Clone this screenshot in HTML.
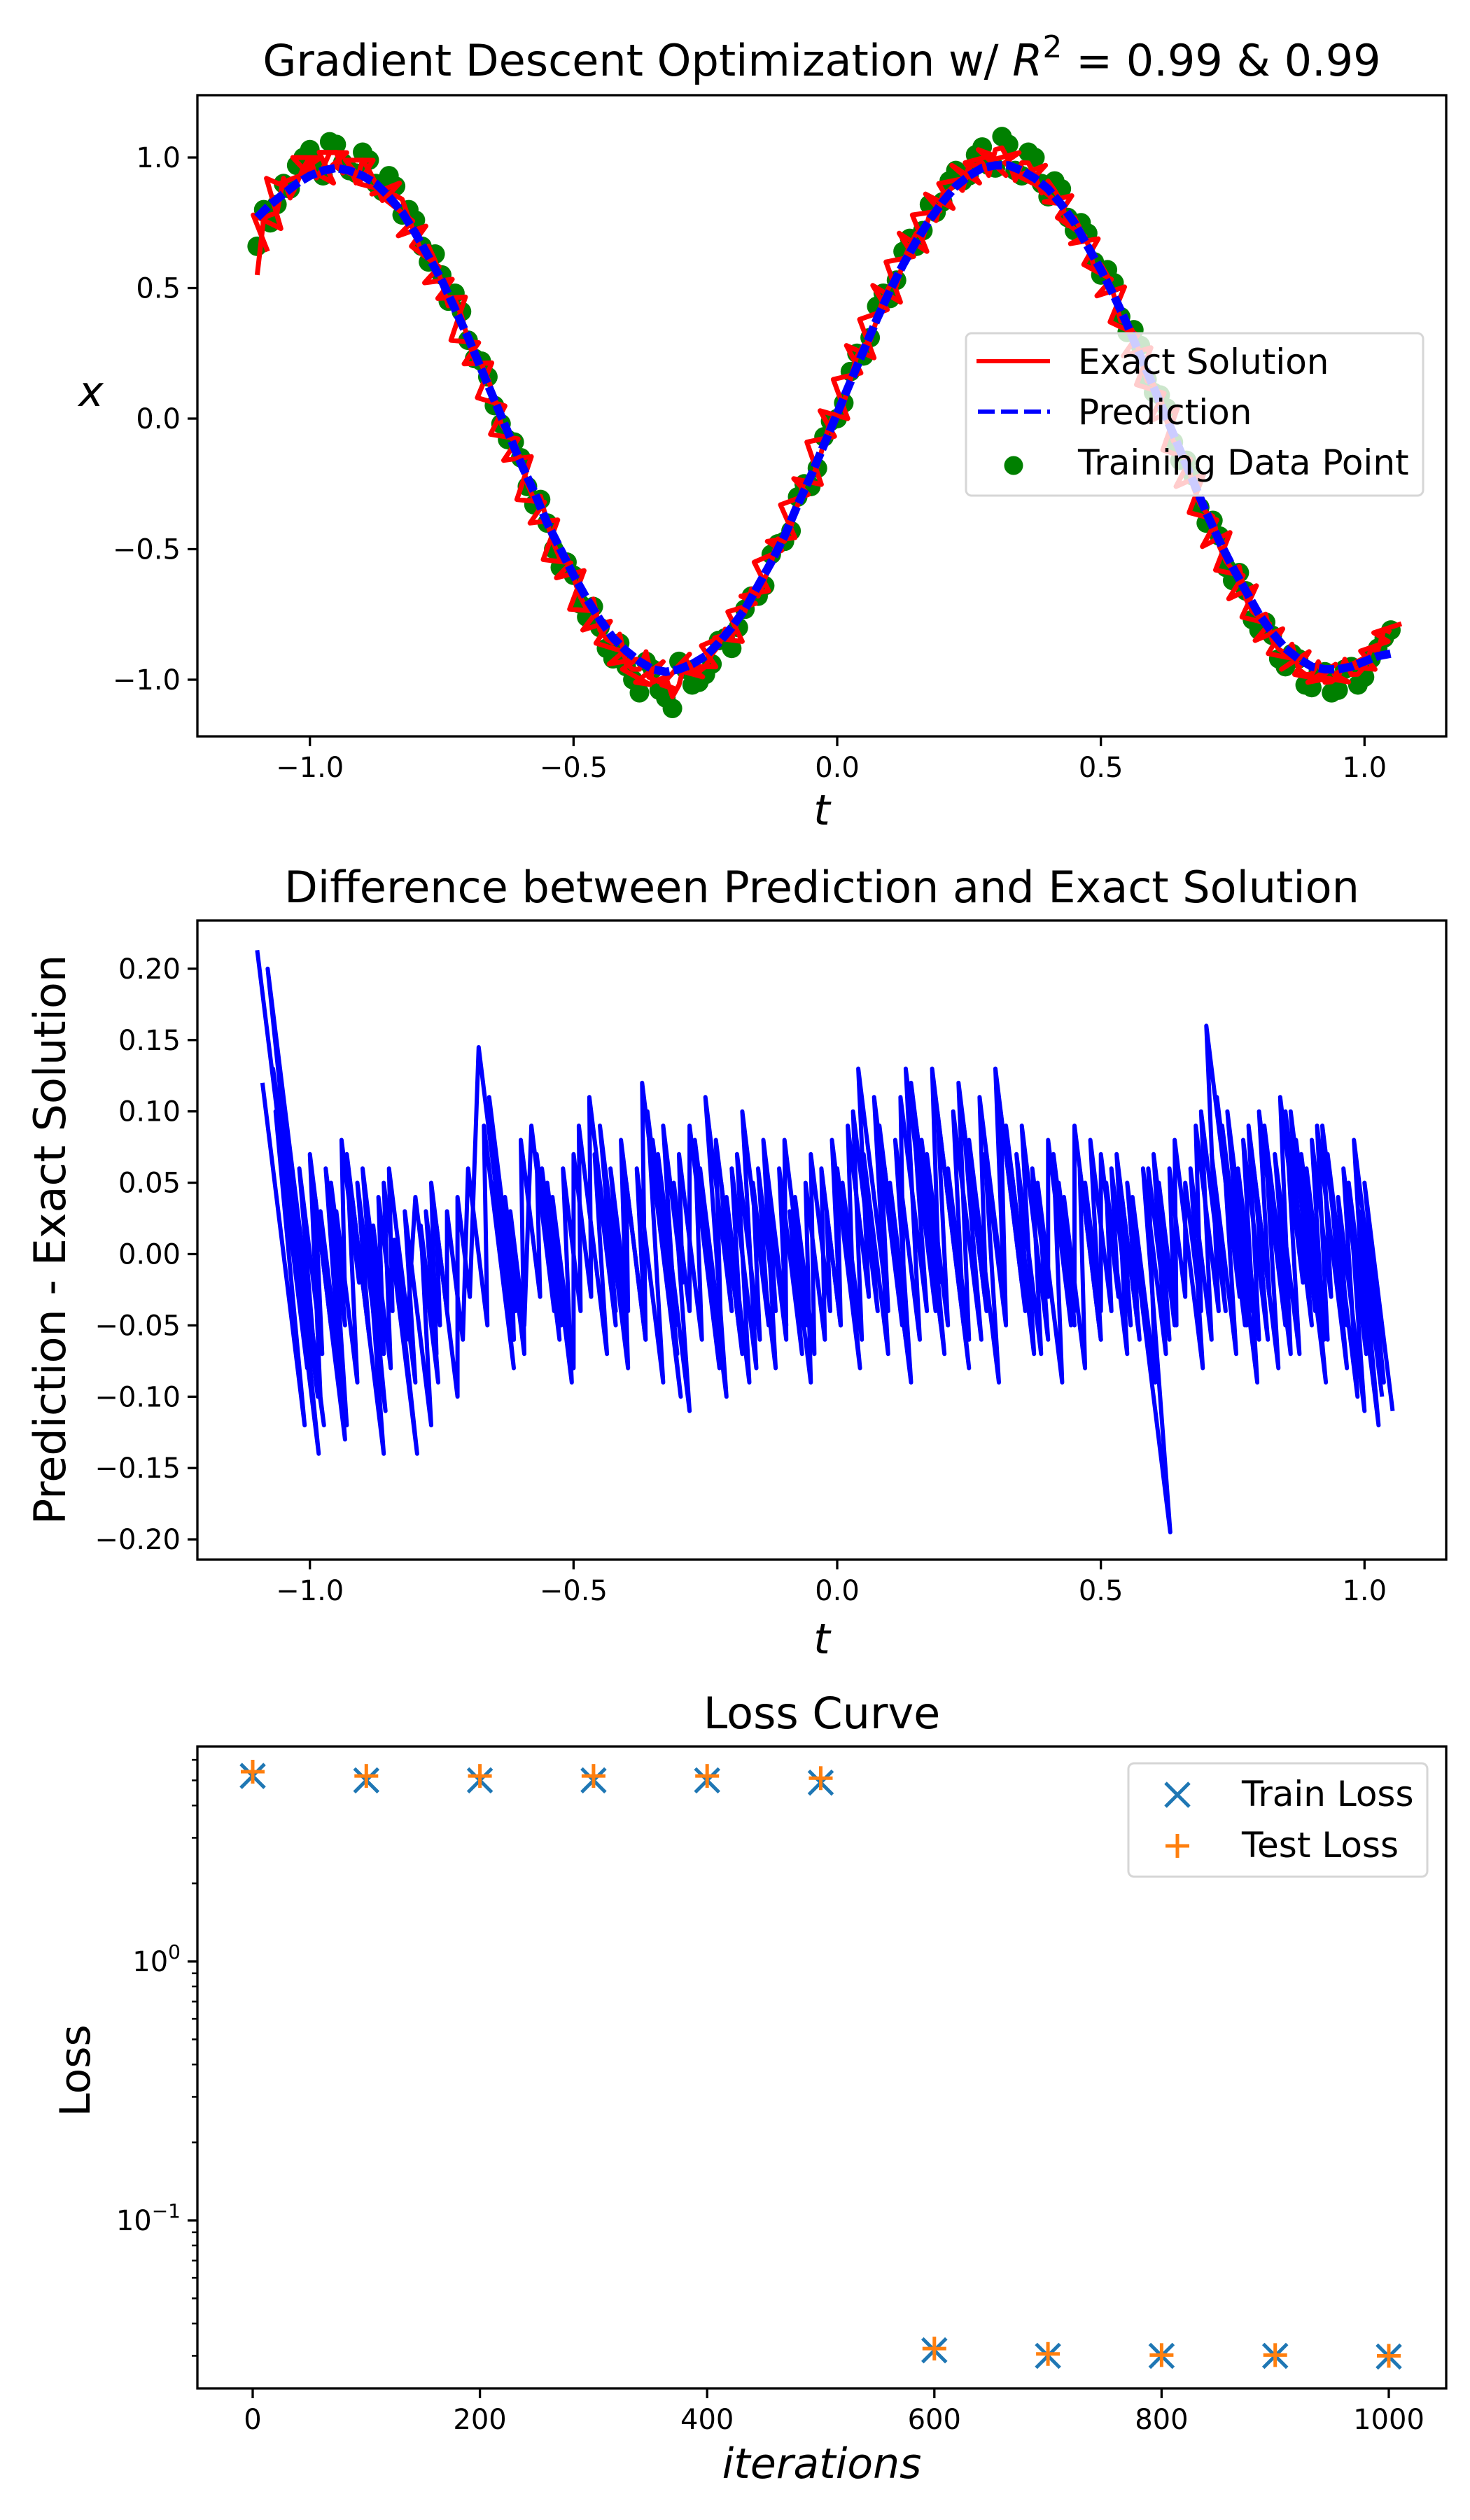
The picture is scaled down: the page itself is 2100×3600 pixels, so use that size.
<!DOCTYPE html>
<html><head><meta charset="utf-8">
<style>
html,body{margin:0;padding:0;background:#fff;}
svg{display:block;}
text{font-family:"DejaVu Sans","Liberation Sans",sans-serif;fill:#000;}
</style></head>
<body>
<svg id="fig" width="2100" height="3600" viewBox="0 0 2100 3600" xmlns="http://www.w3.org/2000/svg">
<rect width="2100" height="3600" fill="#fff"/>
<g id="p1"></g>
<g id="p2"></g>
<g id="p3"></g>
</svg>
<script>
// ---------- Chart 1 data ----------
const tGrid = [-1.1,-1.075,-1.05,-1.025,-1.0,-0.975,-0.95,-0.925,-0.9,-0.875,-0.85,-0.825,-0.8,-0.775,-0.75,-0.725,-0.7,-0.675,-0.65,-0.625,-0.6,-0.575,-0.55,-0.525,-0.5,-0.475,-0.45,-0.425,-0.4,-0.375,-0.35,-0.325,-0.3,-0.275,-0.25,-0.225,-0.2,-0.175,-0.15,-0.125,-0.1,-0.075,-0.05,-0.025,0.0,0.025,0.05,0.075,0.1,0.125,0.15,0.175,0.2,0.225,0.25,0.275,0.3,0.325,0.35,0.375,0.4,0.425,0.45,0.475,0.5,0.525,0.55,0.575,0.6,0.625,0.65,0.675,0.7,0.725,0.75,0.775,0.8,0.825,0.85,0.875,0.9,0.925,0.95,0.975,1.0,1.025,1.05];
const trainA = [0.66,0.75,0.90,0.97,1.03,0.93,1.05,0.95,1.02,0.90,0.93,0.78,0.76,0.60,0.55,0.48,0.30,0.22,0.05,-0.08,-0.15,-0.33,-0.40,-0.57,-0.60,-0.76,-0.80,-0.92,-0.95,-1.05,-0.96,-1.07,-0.93,-1.02,-0.98,-0.85,-0.88,-0.73,-0.68,-0.52,-0.47,-0.30,-0.26,-0.07,0.00,0.18,0.24,0.43,0.46,0.64,0.66,0.82,0.83,0.95,0.93,1.04,0.96,1.05,0.93,1.00,0.85,0.88,0.72,0.71,0.55,0.52,0.33,0.28,0.10,0.04,-0.16,-0.22,-0.40,-0.45,-0.62,-0.66,-0.81,-0.83,-0.95,-0.92,-1.03,-0.97,-1.04,-0.95,-0.99,-0.88,-0.81];
const tMid = [-1.0875,-1.0625,-1.0375,-1.0125,-0.9875,-0.9625,-0.9375,-0.9125,-0.8875,-0.8625,-0.8375,-0.8125,-0.7875,-0.7625,-0.7375,-0.7125,-0.6875,-0.6625,-0.6375,-0.6125,-0.5875,-0.5625,-0.5375,-0.5125,-0.4875,-0.4625,-0.4375,-0.4125,-0.3875,-0.3625,-0.3375,-0.3125,-0.2875,-0.2625,-0.2375,-0.2125,-0.1875,-0.1625,-0.1375,-0.1125,-0.0875,-0.0625,-0.0375,-0.0125,0.0125,0.0375,0.0625,0.0875,0.1125,0.1375,0.1625,0.1875,0.2125,0.2375,0.2625,0.2875,0.3125,0.3375,0.3625,0.3875,0.4125,0.4375,0.4625,0.4875,0.5125,0.5375,0.5625,0.5875,0.6125,0.6375,0.6625,0.6875,0.7125,0.7375,0.7625,0.7875,0.8125,0.8375,0.8625,0.8875,0.9125,0.9375,0.9625,0.9875,1.0125,1.0375];
const trainB = [0.80,0.82,0.88,1.00,0.96,1.06,0.98,0.94,0.99,0.87,0.89,0.80,0.66,0.63,0.45,0.41,0.23,0.16,-0.02,-0.09,-0.26,-0.31,-0.50,-0.55,-0.71,-0.72,-0.88,-0.86,-1.00,-0.93,-1.04,-1.11,-0.96,-1.01,-0.94,-0.84,-0.80,-0.68,-0.64,-0.48,-0.43,-0.25,-0.19,-0.01,0.06,0.25,0.31,0.48,0.53,0.69,0.72,0.79,0.91,0.91,1.01,0.97,1.08,0.95,1.02,0.90,0.91,0.77,0.75,0.60,0.57,0.39,0.34,0.15,0.09,-0.09,-0.16,-0.34,-0.39,-0.57,-0.59,-0.77,-0.78,-0.92,-0.90,-1.02,-0.97,-1.05,-0.96,-1.02,-0.92,-0.84];
const exactX = [0.55,0.78,0.92,0.90,1.00,0.96,1.02,0.97,0.99,0.90,0.86,0.84,0.70,0.66,0.52,0.46,0.30,0.21,0.08,-0.06,-0.16,-0.31,-0.40,-0.54,-0.61,-0.73,-0.81,-0.86,-0.94,-0.96,-1.01,-0.99,-1.02,-0.96,-0.95,-0.87,-0.84,-0.74,-0.68,-0.55,-0.47,-0.33,-0.23,-0.09,0.03,0.15,0.28,0.38,0.51,0.60,0.71,0.78,0.86,0.90,0.97,0.98,1.03,0.99,0.98,0.93,0.91,0.83,0.77,0.67,0.59,0.47,0.37,0.24,0.13,-0.01,-0.12,-0.26,-0.36,-0.49,-0.58,-0.69,-0.76,-0.85,-0.90,-0.96,-0.98,-1.01,-0.99,-0.98,-0.95,-0.89,-0.82];
const predX = [0.77,0.82,0.86,0.90,0.93,0.95,0.96,0.95,0.93,0.90,0.85,0.79,0.71,0.62,0.53,0.42,0.31,0.19,0.07,-0.05,-0.17,-0.28,-0.40,-0.50,-0.60,-0.69,-0.77,-0.84,-0.89,-0.93,-0.96,-0.97,-0.96,-0.94,-0.91,-0.86,-0.80,-0.73,-0.64,-0.55,-0.45,-0.33,-0.22,-0.10,0.02,0.14,0.26,0.38,0.49,0.59,0.68,0.76,0.83,0.89,0.93,0.96,0.97,0.97,0.95,0.92,0.88,0.82,0.75,0.66,0.57,0.47,0.36,0.24,0.12,0.00,-0.12,-0.24,-0.36,-0.47,-0.57,-0.66,-0.75,-0.82,-0.88,-0.92,-0.95,-0.96,-0.96,-0.95,-0.93,-0.91,-0.90];
const yTicks1 = [1.0,0.5,0.0,-0.5,-1.0];
const xTicks = [-1.0,-0.5,0.0,0.5,1.0];

// ---------- Chart 2 data ----------
const segT = [-1.10,-1.08,-1.07,-1.06,-1.05,-1.03,-1.00,-0.98,-0.96,-0.94,-0.92,-0.90,-0.88,-0.86,-0.84,-0.80,-0.78,-0.76,-0.72,-0.68,-0.66,-0.64,-0.62,-0.58,-0.56,-0.54,-0.50,-0.47,-0.45,-0.43,-0.40,-0.37,-0.35,-0.33,-0.30,-0.27,-0.25,-0.22,-0.20,-0.18,-0.15,-0.13,-0.10,-0.08,-0.05,-0.02,0.00,0.02,0.04,0.06,0.08,0.10,0.12,0.14,0.16,0.18,0.20,0.22,0.24,0.27,0.30,0.32,0.34,0.37,0.40,0.42,0.45,0.47,0.50,0.52,0.54,0.55,0.58,0.60,0.63,0.66,0.68,0.70,0.72,0.74,0.76,0.78,0.80,0.82,0.84,0.86,0.88,0.90,0.92,0.95,0.97,0.99];
const segHi = [0.213,0.20,0.13,0.09,0.11,0.05,0.07,0.03,0.05,0.08,0.04,0.06,0.02,0.05,0.01,0.04,0.03,0.02,0.04,0.145,0.11,0.02,0.03,0.09,0.06,0.04,0.07,0.11,0.09,0.06,0.05,0.12,0.08,0.09,0.07,0.08,0.11,0.05,0.06,0.10,0.06,0.04,0.08,0.04,0.07,0.03,0.06,0.09,0.13,0.07,0.09,0.05,0.11,0.12,0.08,0.13,0.07,0.10,0.09,0.11,0.13,0.09,0.07,0.06,0.08,0.05,0.09,0.05,0.07,0.06,0.04,0.05,0.06,0.07,0.06,0.05,0.09,0.16,0.11,0.10,0.06,0.09,0.10,0.05,0.11,0.10,0.07,0.08,0.09,0.04,0.05,0.03];
const segLo = [-0.09,-0.12,-0.08,-0.14,-0.06,-0.10,-0.05,-0.12,-0.03,-0.02,-0.14,-0.05,-0.08,-0.14,-0.06,-0.09,-0.05,-0.10,-0.03,-0.02,-0.04,-0.06,-0.05,-0.04,-0.05,-0.08,-0.03,-0.04,-0.05,-0.04,-0.06,-0.10,-0.05,-0.02,-0.06,-0.10,-0.04,-0.07,-0.08,-0.05,-0.04,-0.06,-0.05,-0.07,-0.04,-0.05,-0.03,-0.03,-0.02,-0.04,-0.06,-0.03,-0.04,-0.05,-0.02,-0.03,-0.05,-0.06,-0.04,-0.03,-0.02,-0.04,-0.07,-0.03,-0.05,-0.04,-0.06,-0.04,-0.03,-0.05,-0.06,-0.195,-0.07,-0.05,-0.03,-0.04,-0.04,-0.03,-0.05,-0.04,-0.06,-0.03,-0.05,-0.07,-0.02,-0.04,-0.06,-0.03,-0.05,-0.11,-0.12,-0.10];
const segT2 = [-1.09,-1.065,-1.045,-1.02,-0.99,-0.97,-0.95,-0.93,-0.91,-0.89,-0.87,-0.85,-0.82,-0.79,-0.77,-0.74,-0.70,-0.67,-0.65,-0.63,-0.60,-0.57,-0.55,-0.52,-0.49,-0.46,-0.44,-0.41,-0.38,-0.36,-0.34,-0.31,-0.28,-0.26,-0.23,-0.21,-0.19,-0.16,-0.14,-0.11,-0.09,-0.06,-0.03,-0.01,0.01,0.03,0.05,0.07,0.09,0.11,0.13,0.15,0.17,0.19,0.21,0.23,0.25,0.28,0.31,0.33,0.35,0.38,0.41,0.43,0.46,0.48,0.51,0.53,0.56,0.59,0.61,0.64,0.67,0.69,0.71,0.73,0.75,0.77,0.79,0.81,0.83,0.85,0.87,0.89,0.91,0.93,0.96,0.98,1.00];
const segHi2 = [0.12,0.10,0.08,0.06,0.04,0.06,0.03,0.07,0.05,0.02,0.04,0.06,0.03,0.02,0.05,0.03,0.06,0.09,0.05,0.04,0.08,0.07,0.05,0.06,0.09,0.07,0.05,0.08,0.06,0.10,0.07,0.05,0.09,0.06,0.08,0.04,0.07,0.05,0.08,0.06,0.03,0.05,0.06,0.08,0.05,0.10,0.07,0.11,0.06,0.08,0.13,0.09,0.07,0.10,0.06,0.12,0.08,0.07,0.10,0.06,0.09,0.05,0.07,0.04,0.06,0.08,0.05,0.07,0.04,0.06,0.05,0.08,0.06,0.10,0.07,0.09,0.05,0.08,0.06,0.09,0.07,0.10,0.08,0.06,0.09,0.07,0.06,0.08,0.05];
const segLo2 = [-0.12,-0.08,-0.10,-0.07,-0.13,-0.05,-0.09,-0.06,-0.11,-0.07,-0.04,-0.09,-0.12,-0.07,-0.04,-0.06,-0.05,-0.08,-0.06,-0.07,-0.03,-0.06,-0.09,-0.04,-0.07,-0.05,-0.08,-0.06,-0.09,-0.07,-0.11,-0.04,-0.08,-0.06,-0.05,-0.09,-0.06,-0.08,-0.05,-0.07,-0.09,-0.06,-0.05,-0.08,-0.06,-0.04,-0.07,-0.05,-0.09,-0.06,-0.04,-0.07,-0.05,-0.08,-0.06,-0.03,-0.09,-0.05,-0.04,-0.07,-0.06,-0.09,-0.05,-0.08,-0.06,-0.04,-0.07,-0.05,-0.09,-0.06,-0.05,-0.08,-0.06,-0.04,-0.07,-0.05,-0.09,-0.06,-0.08,-0.04,-0.07,-0.05,-0.09,-0.06,-0.08,-0.10,-0.07,-0.09,-0.11];
const yTicks2 = [0.20,0.15,0.10,0.05,0.00,-0.05,-0.10,-0.15,-0.20];

// ---------- Chart 3 data ----------
const iters = [0,100,200,300,400,500,600,700,800,900,1000];
const trainLoss = [5.2,5.0,5.0,5.0,5.0,4.9,0.0315,0.0300,0.0300,0.0300,0.0298];
const testLoss = [5.4,5.2,5.2,5.2,5.2,5.1,0.0320,0.0305,0.0302,0.0302,0.0300];
const xTicks3 = [0,200,400,600,800,1000];

const NS = 'http://www.w3.org/2000/svg';
function mk(parent, tag, attrs, txt){
  const e = document.createElementNS(NS, tag);
  for (const k in attrs) e.setAttribute(k, attrs[k]);
  if (txt !== undefined) e.textContent = txt;
  parent.appendChild(e);
  return e;
}
const fmtNeg = s => s.replace('-', '\u2212');
const AX = {l:282, r:2066};

// ===== Chart 1 =====
(function(){
  const g = document.getElementById('p1');
  const T = 136, B = 1052;
  const sx = t => 1196 + t*753.3;
  const sy = v => 598 - v*373;
  const clip = mk(g,'clipPath',{id:'c1'}); mk(clip,'rect',{x:AX.l,y:T,width:AX.r-AX.l,height:B-T});
  const pg = mk(g,'g',{'clip-path':'url(#c1)'});
  
  
  tGrid.forEach((t,i)=>{ const c=mk(pg,'circle',{cx:sx(t),cy:sy(trainA[i]),r:14,fill:'#008000'});
      });
  tMid.forEach((t,i)=>{ const c=mk(pg,'circle',{cx:sx(t),cy:sy(trainB[i]),r:14,fill:'#008000'});
      });
  let d='';
  tGrid.forEach((t,i)=>{ d += (i?'L':'M')+sx(t).toFixed(1)+','+sy(exactX[i]).toFixed(1);
    if (i<tMid.length) d += 'L'+sx(tMid[i]).toFixed(1)+','+sy(trainB[i]*0.96).toFixed(1); });
  const ex = mk(pg,'path',{d:d,fill:'none',stroke:'#ff0000','stroke-width':7,'stroke-linejoin':'round'});
   
  let d3='';
  tGrid.forEach((t,i)=>{ d3 += (i?'L':'M')+sx(t+0.02).toFixed(1)+','+sy(trainA[i]*0.97).toFixed(1);
    if (i<tMid.length) d3 += 'L'+sx(tMid[i]-0.02).toFixed(1)+','+sy(exactX[i+1]).toFixed(1); });
  const ex2 = mk(pg,'path',{d:d3,fill:'none',stroke:'#ff0000','stroke-width':7,'stroke-linejoin':'round'});
   
  let d2='';
  tGrid.forEach((t,i)=>{ d2 += (i?'L':'M')+sx(t).toFixed(1)+','+sy(predX[i]).toFixed(1); });
  const pr = mk(pg,'path',{d:d2,fill:'none',stroke:'#0000ff','stroke-width':12,'stroke-dasharray':'22,6'});
   
  const fr = mk(g,'rect',{x:AX.l,y:T,width:AX.r-AX.l,height:B-T,fill:'none',stroke:'#000','stroke-width':3.3});
   
  yTicks1.forEach(v=>{ mk(g,'line',{x1:AX.l-14,x2:AX.l,y1:sy(v),y2:sy(v),stroke:'#000','stroke-width':3.3});
    const tx=mk(g,'text',{x:AX.l-24,y:sy(v)+14,'font-size':40,'text-anchor':'end'},fmtNeg(v.toFixed(1)));
      });
  xTicks.forEach(v=>{ mk(g,'line',{x1:sx(v),x2:sx(v),y1:B,y2:B+14,stroke:'#000','stroke-width':3.3});
    const tx=mk(g,'text',{x:sx(v),y:B+58,'font-size':40,'text-anchor':'middle'},fmtNeg(v.toFixed(1)));
      });
  const ti = mk(g,'text',{x:1174,y:108,'font-size':62,'text-anchor':'middle'});
   
  mk(ti,'tspan',{},'Gradient Descent Optimization w/ ');
  mk(ti,'tspan',{'font-style':'italic'},'R');
  mk(ti,'tspan',{'font-size':44,dy:-26},'2');
  mk(ti,'tspan',{dy:26},' = 0.99 & 0.99');
  const xl = mk(g,'text',{x:1174,y:1178,'font-size':60,'font-style':'italic','text-anchor':'middle'},'t');
   
  const yl = mk(g,'text',{x:130,y:580,'font-size':60,'font-style':'italic','text-anchor':'middle'},'x');
   
  const lg = mk(g,'g',{});
   
  mk(lg,'rect',{x:1380,y:476,width:653,height:232,rx:8,fill:'#fff','fill-opacity':0.8,stroke:'#d6d6d6','stroke-width':3});
  mk(lg,'line',{x1:1395,x2:1500,y1:516,y2:516,stroke:'#ff0000','stroke-width':6});
  mk(lg,'line',{x1:1397,x2:1500,y1:588,y2:588,stroke:'#0000ff','stroke-width':6,'stroke-dasharray':'24,9'});
  mk(lg,'circle',{cx:1448,cy:665,r:13.5,fill:'#008000'});
  [['Exact Solution',534],['Prediction',606],['Training Data Point',678]].forEach(([s,y])=>{
    const tx=mk(lg,'text',{x:1540,y:y,'font-size':50},s);
      });
})();

// ===== Chart 2 =====
(function(){
  const g = document.getElementById('p2');
  const T = 1315, B = 2228;
  const sx = t => 1196 + t*753.3;
  const sy = v => 1791.5 - v*2038;
  const clip = mk(g,'clipPath',{id:'c2'}); mk(clip,'rect',{x:AX.l,y:T,width:AX.r-AX.l,height:B-T});
  function draw(ts, his, los){
    let d='';
    ts.forEach((t,i)=>{ const te = t + (his[i]-los[i])/3;
      d += (i?'L':'M')+sx(t).toFixed(1)+','+sy(his[i]).toFixed(1)+'L'+sx(te).toFixed(1)+','+sy(los[i]).toFixed(1); });
    const ln = mk(g,'path',{d:d,fill:'none',stroke:'#0000ff','stroke-width':6,'stroke-linejoin':'round','clip-path':'url(#c2)'});
     
  }
  draw(segT, segHi, segLo);
  draw(segT2, segHi2, segLo2);
  const fr = mk(g,'rect',{x:AX.l,y:T,width:AX.r-AX.l,height:B-T,fill:'none',stroke:'#000','stroke-width':3.3});
   
  yTicks2.forEach(v=>{ mk(g,'line',{x1:AX.l-14,x2:AX.l,y1:sy(v),y2:sy(v),stroke:'#000','stroke-width':3.3});
    const tx=mk(g,'text',{x:AX.l-24,y:sy(v)+14,'font-size':40,'text-anchor':'end'},fmtNeg(v.toFixed(2)));
      });
  xTicks.forEach(v=>{ mk(g,'line',{x1:sx(v),x2:sx(v),y1:B,y2:B+14,stroke:'#000','stroke-width':3.3});
    const tx=mk(g,'text',{x:sx(v),y:B+58,'font-size':40,'text-anchor':'middle'},fmtNeg(v.toFixed(1)));
      });
  const ti = mk(g,'text',{x:1174,y:1289,'font-size':62,'text-anchor':'middle'},'Difference between Prediction and Exact Solution');
   
  const xl = mk(g,'text',{x:1174,y:2362,'font-size':60,'font-style':'italic','text-anchor':'middle'},'t');
   
  const yl = mk(g,'text',{x:0,y:0,'font-size':62,'text-anchor':'middle',transform:'translate(93,1771) rotate(-90)'},'Prediction - Exact Solution');
   
})();

// ===== Chart 3 =====
(function(){
  const g = document.getElementById('p3');
  const T = 2495, B = 3412;
  const sx = v => 361 + v*1.623;
  const sy = v => 2802 - Math.log10(v)*370;
  const fr = mk(g,'rect',{x:AX.l,y:T,width:AX.r-AX.l,height:B-T,fill:'none',stroke:'#000','stroke-width':3.3});
   
  [0.03,0.04,0.05,0.06,0.07,0.08,0.09,0.2,0.3,0.4,0.5,0.6,0.7,0.8,0.9,2,3,4,5,6].forEach(v=>{
    const y=sy(v); if(y>T&&y<B) mk(g,'line',{x1:AX.l-8,x2:AX.l,y1:y,y2:y,stroke:'#000','stroke-width':2.5}); });
  [[1,'0'],[0.1,'\u22121']].forEach(([v,e])=>{
    mk(g,'line',{x1:AX.l-14,x2:AX.l,y1:sy(v),y2:sy(v),stroke:'#000','stroke-width':3.3});
    const tx=mk(g,'text',{x:AX.l-24,y:sy(v)+14,'font-size':40,'text-anchor':'end'});
     
    mk(tx,'tspan',{},'10'); mk(tx,'tspan',{'font-size':28,dy:-18},e); });
  xTicks3.forEach(v=>{ mk(g,'line',{x1:sx(v),x2:sx(v),y1:B,y2:B+14,stroke:'#000','stroke-width':3.3});
    const tx=mk(g,'text',{x:sx(v),y:B+58,'font-size':40,'text-anchor':'middle'},String(v));
      });
  const s=17;
  iters.forEach((it,i)=>{
    const x=sx(it), y=sy(trainLoss[i]);
    const m=mk(g,'path',{d:`M${x-s},${y-s}L${x+s},${y+s}M${x-s},${y+s}L${x+s},${y-s}`,stroke:'#1f77b4','stroke-width':5,fill:'none'});
     
  });
  iters.forEach((it,i)=>{
    const x=sx(it), y=sy(testLoss[i]);
    const m=mk(g,'path',{d:`M${x-s},${y}L${x+s},${y}M${x},${y-s}L${x},${y+s}`,stroke:'#ff7f0e','stroke-width':5,fill:'none'});
     
  });
  const ti = mk(g,'text',{x:1174,y:2469,'font-size':62,'text-anchor':'middle'},'Loss Curve');
   
  const xl = mk(g,'text',{x:1174,y:3540,'font-size':60,'font-style':'italic','text-anchor':'middle'},'iterations');
   
  const yl = mk(g,'text',{x:0,y:0,'font-size':60,'text-anchor':'middle',transform:'translate(128,2958) rotate(-90)'},'Loss');
   
  const lg = mk(g,'g',{});
   
  mk(lg,'rect',{x:1612,y:2519,width:427,height:162,rx:8,fill:'#fff','fill-opacity':0.8,stroke:'#d6d6d6','stroke-width':3});
  const lx=1682, y1=2564, y2=2637;
  mk(lg,'path',{d:`M${lx-s},${y1-s}L${lx+s},${y1+s}M${lx-s},${y1+s}L${lx+s},${y1-s}`,stroke:'#1f77b4','stroke-width':5});
  mk(lg,'path',{d:`M${lx-s},${y2}L${lx+s},${y2}M${lx},${y2-s}L${lx},${y2+s}`,stroke:'#ff7f0e','stroke-width':5});
  [['Train Loss',2580],['Test Loss',2653]].forEach(([t,y])=>{
    const tx=mk(lg,'text',{x:1774,y:y,'font-size':50},t);
      });
})();
</script>
</body></html>
